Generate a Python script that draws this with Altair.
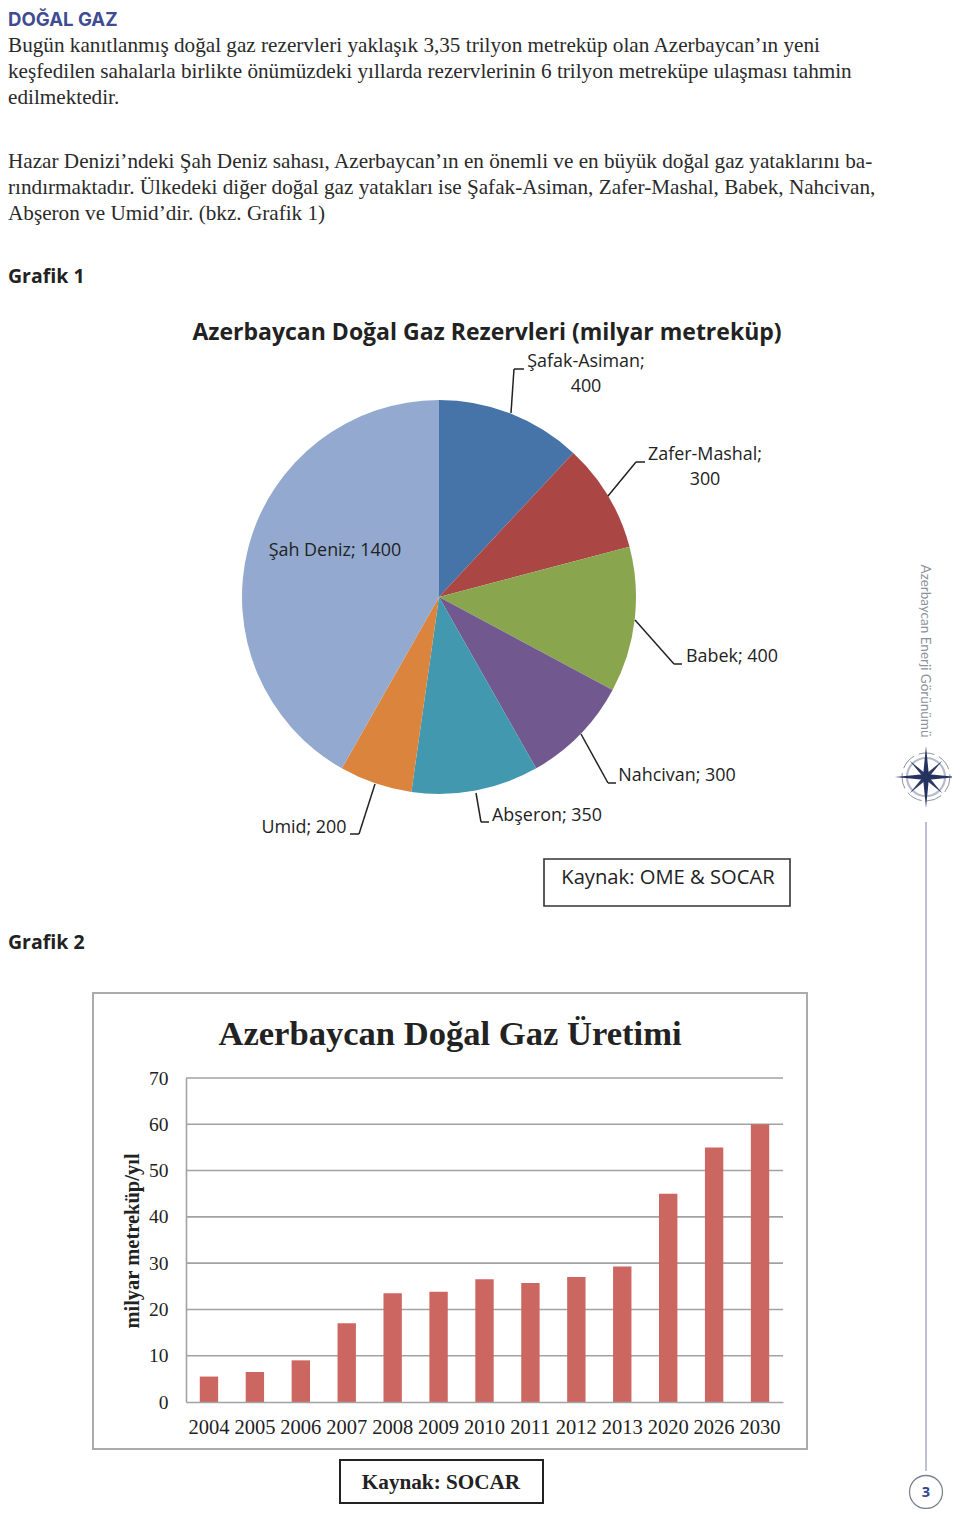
import altair as alt
import pandas as pd
import math

W, H = 944, 1501
OFF = 8

# ---- data ----
pie_names = ["Şafak-Asiman", "Zafer-Mashal", "Babek", "Nahcivan", "Abşeron", "Umid", "Şah Deniz"]
pie_values = [400, 300, 400, 300, 350, 200, 1400]
pie_colors = ["#4674A8", "#AA4744", "#89A54E", "#71588F", "#4198AF", "#DB843D", "#93A9CF"]

years = ["2004", "2005", "2006", "2007", "2008", "2009", "2010", "2011", "2012", "2013", "2020", "2026", "2030"]
production = [5.5, 6.5, 9, 17, 23.5, 23.8, 26.5, 25.7, 27, 29.3, 45, 55, 60]
grid_values = [10, 20, 30, 40, 50, 60, 70]

body = [
    ("Bugün kanıtlanmış doğal gaz rezervleri yaklaşık 3,35 trilyon metreküp olan Azerbaycan’ın yeni", 45),
    ("keşfedilen sahalarla birlikte önümüzdeki yıllarda rezervlerinin 6 trilyon metreküpe ulaşması tahmin", 71),
    ("edilmektedir.", 97),
    ("Hazar Denizi’ndeki Şah Deniz sahası, Azerbaycan’ın en önemli ve en büyük doğal gaz yataklarını ba-", 161),
    ("rındırmaktadır. Ülkedeki diğer doğal gaz yatakları ise Şafak-Asiman, Zafer-Mashal, Babek, Nahcivan,", 187),
    ("Abşeron ve Umid’dir. (bkz. Grafik 1)", 213),
]
pie_labels = [
    ("Şafak-Asiman;", 586, 361), ("400", 586, 386),
    ("Zafer-Mashal;", 705, 454), ("300", 705, 479),
    ("Babek; 400", 732, 656),
    ("Nahcivan; 300", 677, 775),
    ("Abşeron; 350", 547, 815),
    ("Umid; 200", 304, 827),
    ("Şah Deniz; 1400", 335, 550),
]
leaders = [
    [(511, 413), (514, 369), (524, 369)],
    [(608, 496), (636, 462), (645, 462)],
    [(635, 620), (674, 664), (682, 664)],
    [(581, 734), (608, 783), (616, 783)],
    [(476, 793), (481, 822), (489, 822)],
    [(375, 784), (359, 834), (350, 834)],
]

one = pd.DataFrame([{"k": 1}])
SERIF = "Liberation Serif"
SANS = "Open Sans"


def px(v):
    return alt.value(v - OFF)


def text(s, x, y, size, font=SANS, weight="normal", color="#222222", align="center", angle=0):
    kw = {"angle": angle} if angle else {}
    return alt.Chart(one).mark_text(
        text=s, fontSize=size, font=font, fontWeight=weight, color=color,
        align=align, baseline="middle", **kw
    ).encode(x=px(x), y=px(y + 1))


def seg(a, b, color="#222222", w=1.5):
    return alt.Chart(one).mark_rule(color=color, strokeWidth=w).encode(
        x=px(a[0]), y=px(a[1]), x2=px(b[0]), y2=px(b[1])
    )


def box(x0, y0, x1, y1, color, w):
    return alt.Chart(one).mark_rect(fillOpacity=0, stroke=color, strokeWidth=w).encode(
        x=px(x0), x2=px(x1), y=px(y0), y2=px(y1)
    )


layers = []

# header text
layers.append(text("DOĞAL GAZ", 8, 18.5, 18.6, "Inter", "bold", "#3F4C92", "left"))
for s, y in body:
    layers.append(text(s, 8, y, 21.2, SERIF, "normal", "#2a2a2a", "left"))
layers.append(text("Grafik 1", 8, 276, 19.5, SANS, "bold", "#222222", "left"))
layers.append(text("Grafik 2", 8, 942, 19.5, SANS, "bold", "#222222", "left"))

# pie
pie_df = pd.DataFrame({"name": pie_names, "value": pie_values, "i": range(len(pie_names))})
layers.append(
    alt.Chart(pie_df).mark_arc(outerRadius=197).encode(
        theta=alt.Theta("value:Q", stack=True, scale=alt.Scale(range=[0, 2 * math.pi])),
        order=alt.Order("i:Q"),
        color=alt.Color("name:N", scale=alt.Scale(domain=pie_names, range=pie_colors), legend=None),
        x=px(439), y=px(597),
    )
)
layers.append(text("Azerbaycan Doğal Gaz Rezervleri (milyar metreküp)", 487, 332, 23, SANS, "bold", "#222222"))
for s, x, y in pie_labels:
    layers.append(text(s, x, y, 17.9, SANS, "normal", "#222222"))
for pts in leaders:
    layers.append(seg(pts[0], pts[1]))
    layers.append(seg(pts[1], pts[2]))

layers.append(box(544, 859, 790, 906, "#333333", 1.6))
layers.append(text("Kaynak: OME &  SOCAR", 668, 877, 20.2, SANS, "normal", "#222222"))

# bar chart
layers.append(box(93, 993, 807, 1449, "#ABABAB", 2))
x_scale = alt.Scale(domain=years, range=[186 - OFF, 783 - OFF], paddingInner=0.6, paddingOuter=0.3)
y_scale = alt.Scale(domain=[0, 70], range=[1402 - OFF, 1078 - OFF], nice=False, zero=True)
y_axis = alt.Axis(
    title=None, offset=-(186 - OFF), values=[0] + grid_values, ticks=False,
    domainColor="#A2A2A2", domainWidth=1.6, labelFont=SERIF, labelFontSize=19.5,
    labelColor="#222222", labelPadding=18, grid=False, zindex=1)
grid_df = pd.DataFrame({"v": grid_values})
layers.append(
    alt.Chart(grid_df).mark_rule(color="#A2A2A2", strokeWidth=1.6).encode(
        y=alt.Y("v:Q", scale=y_scale, axis=y_axis),
        x=px(186), x2=px(783),
    )
)
bar_df = pd.DataFrame({"year": years, "v": production})
layers.append(
    alt.Chart(bar_df).mark_bar(color="#CC6660").encode(
        x=alt.X("year:N", scale=x_scale, sort=years, axis=alt.Axis(
            title=None, offset=-(H - (1402 - OFF)), labelAngle=0, ticks=False,
            domainColor="#A2A2A2", domainWidth=1.6, labelFont=SERIF, labelFontSize=20.5,
            labelColor="#222222", labelPadding=15, labelOverlap=False, grid=False, zindex=1)),
        y=alt.Y("v:Q", scale=y_scale, axis=y_axis),
    )
)
layers.append(text("Azerbaycan Doğal Gaz Üretimi", 450, 1033.5, 34.6, SERIF, "bold", "#222222"))
layers.append(text("milyar metreküp/yıl", 133, 1240, 20.5, SERIF, "bold", "#222222", angle=270))
layers.append(box(340, 1460, 543, 1503, "#222222", 2))
layers.append(text("Kaynak: SOCAR", 441, 1481.5, 21.2, SERIF, "bold", "#222222"))

# side furniture
layers.append(text("Azerbaycan Enerji Görünümü", 925, 650, 13.5, "Lato", "normal", "#8C909A", angle=90))
layers.append(seg((926, 822), (926, 1471), "#A9ABC4", 1.5))

STAR4 = "M0,-1L0.09,-0.09L1,0L0.09,0.09L0,1L-0.09,0.09L-1,0L-0.09,-0.09Z"


def compass(size, angle, color, **kw):
    return alt.Chart(one).mark_point(
        shape=STAR4, size=size, angle=angle, filled=True, color=color, opacity=1, **kw
    ).encode(x=px(926), y=px(777))


def ring(d, color, w, cy=777, **kw):
    return alt.Chart(one).mark_point(
        shape="circle", size=d * d, filled=False, color=color, strokeWidth=w, opacity=1, **kw
    ).encode(x=px(926), y=px(cy))


layers.append(ring(38, "#B6BCCB", 2.2))
layers.append(ring(48, "#8E939F", 1, strokeDash=[16, 5]))
layers.append(compass(46 ** 2, 45, "#2C3A66"))
layers.append(compass(62 ** 2, 0, "#24325F"))

layers.append(ring(33, "#7E828E", 1.3, cy=1492))
layers.append(text("3", 926, 1492, 14.5, SANS, "bold", "#34468F"))

chart = alt.layer(*layers).resolve_scale(
    color="independent", theta="independent"
).properties(
    width=W, height=H, padding=0, autosize=alt.AutoSizeParams(type="none"),
    background="white"
).configure_view(stroke=None)

chart.save("out.html", embed_options={"renderer": "svg", "actions": False})
